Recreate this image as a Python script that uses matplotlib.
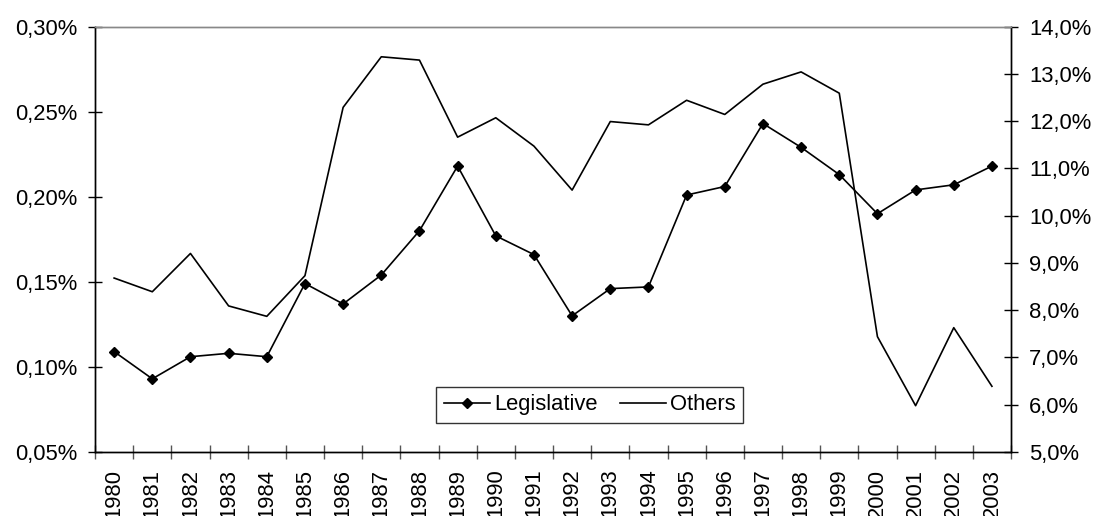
import matplotlib
matplotlib.use("Agg")
import matplotlib.pyplot as plt
from matplotlib.ticker import FuncFormatter, FixedLocator

plt.rcParams['font.family'] = ['Liberation Sans', 'DejaVu Sans']

years = [str(y) for y in range(1980, 2004)]
legislative = [0.109, 0.093, 0.106, 0.108, 0.106, 0.149, 0.137, 0.154, 0.180, 0.218,
               0.177, 0.166, 0.130, 0.146, 0.147, 0.201, 0.206, 0.243, 0.229, 0.213,
               0.190, 0.204, 0.207, 0.218]
others = [8.68, 8.39, 9.20, 8.09, 7.87, 8.73, 12.29, 13.36, 13.29, 11.66,
          12.07, 11.47, 10.54, 11.99, 11.92, 12.44, 12.14, 12.78, 13.04, 12.59,
          7.44, 5.98, 7.63, 6.39]
left_ticks = [0.05, 0.10, 0.15, 0.20, 0.25, 0.30]
right_ticks = [5, 6, 7, 8, 9, 10, 11, 12, 13, 14]

FS = 15.8
fig = plt.figure(figsize=(10.95, 5.16), dpi=100)
ax = fig.add_axes([0.0868, 0.124, 0.8365, 0.8246])
ax2 = ax.twinx()

x = list(range(len(years)))
l1, = ax.plot(x, legislative, color='black', lw=1.2, marker='D', markersize=5.5,
              label='Legislative', zorder=3)
l2, = ax2.plot(x, others, color='black', lw=1.2, label='Others')

ax.set_xlim(-0.5, len(years) - 0.5)
ax.set_ylim(0.05, 0.30)
ax2.set_ylim(5, 14)
ax.yaxis.set_major_locator(FixedLocator(left_ticks))
ax2.yaxis.set_major_locator(FixedLocator(right_ticks))
ax.yaxis.set_major_formatter(FuncFormatter(lambda v, p: f"{v:.2f}%".replace('.', ',')))
ax2.yaxis.set_major_formatter(FuncFormatter(lambda v, p: f"{v:.1f}%".replace('.', ',')))

# x: tick marks at category boundaries, labels at centres
ax.set_xticks([i - 0.5 for i in range(len(years) + 1)])
ax.set_xticklabels([])
ax.set_xticks(x, minor=True)
ax.set_xticklabels(years, minor=True, rotation=90, fontsize=FS)
ax.tick_params(axis='x', which='major', direction='inout', length=10, width=1, color='#555555')
ax.tick_params(axis='x', which='minor', length=0, pad=12)

ax.tick_params(axis='y', direction='inout', length=10, width=1, labelsize=FS, pad=8)
ax2.tick_params(axis='y', direction='inout', length=10, width=1, labelsize=FS, pad=8)

for a in (ax, ax2):
    a.spines['top'].set_color('#888888')
    a.spines['top'].set_linewidth(1.0)
    for s in ('left', 'right', 'bottom'):
        a.spines[s].set_color('black')
        a.spines[s].set_linewidth(1.0)

leg = ax2.legend([l1, l2], ['Legislative', 'Others'], ncol=2, fontsize=FS,
                 loc='center', bbox_to_anchor=(0.54, 0.111), bbox_transform=ax.transAxes,
                 frameon=True, fancybox=False, handlelength=2.1, handletextpad=0.2,
                 columnspacing=1.0, borderpad=0.35, borderaxespad=0)
leg.get_frame().set_edgecolor('black')
leg.get_frame().set_linewidth(1.0)

fig.savefig('out.png', dpi=100)
